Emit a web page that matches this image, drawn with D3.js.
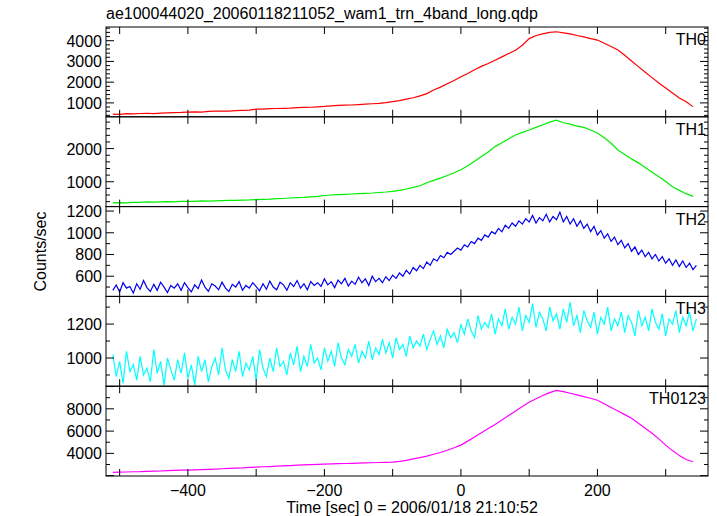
<!DOCTYPE html>
<html>
<head>
<meta charset="utf-8">
<script src="https://cdn.jsdelivr.net/npm/d3@7"></script>
<style>
  body { margin: 0; background: #fff; }
  text { font-family: "Liberation Sans", Arial, sans-serif; }
</style>
</head>
<body>
<svg width="717" height="516"></svg>
<script>
// light curve bins: 10 s for the smooth bands, 5 s for the noisy ones
let th0 = [460,450,480,470,490,500,480,510,520,530,540,
  560,570,560,590,600,610,600,630,640,650,700,
  700,720,730,740,750,770,780,790,810,830,
  860,880,890,900,920,940,960,980,1010,1060,
  1110,1180,1250,1340,1450,1620,1760,1920,2080,2260,
  2420,2600,2760,2900,3060,3220,3380,3540,3780,4100,
  4250,4330,4400,4430,4380,4330,4250,4180,4100,4030,
  3880,3720,3550,3300,3020,2750,2480,2220,1960,1720,
  1480,1240,1060,820]
let th1 = [360,370,365,380,375,390,385,395,400,395,405,
  410,405,420,415,425,430,435,440,445,450,460,
  470,475,490,495,510,520,530,545,560,585,
  600,610,620,630,640,650,660,675,690,710,
  740,780,830,880,970,1040,1110,1190,1270,1360,
  1480,1620,1760,1900,2060,2180,2300,2410,2490,2560,
  2640,2720,2800,2860,2780,2740,2680,2640,2560,2470,
  2330,2160,1960,1820,1690,1570,1430,1290,1150,1010,
  850,740,640,560]
let th0123 = [2300,2320,2330,2350,2360,2390,2400,2420,2450,2470,2490,
  2500,2520,2540,2570,2590,2620,2650,2680,2700,2740,2770,
  2800,2820,2850,2880,2910,2940,2970,2990,3010,3040,
  3060,3080,3090,3110,3130,3150,3160,3180,3200,3220,
  3290,3380,3500,3620,3760,3920,4080,4280,4500,4740,
  5100,5480,5860,6240,6600,7000,7400,7800,8200,8590,
  8900,9200,9450,9660,9550,9400,9250,9100,8950,8770,
  8450,8120,7800,7480,7160,6700,6250,5800,5300,4740,
  4250,3800,3450,3250]
let th2 = [470,520,455,540,490,505,445,530,480,560,
  495,460,525,470,545,500,450,515,490,530,
  470,540,495,455,520,485,565,500,460,530,
  510,475,545,490,460,525,500,550,470,515,
  490,540,505,465,530,480,555,500,475,545,
  520,470,540,505,560,490,530,475,550,515,
  540,505,575,520,550,495,565,530,580,510,
  555,525,590,540,575,515,600,550,580,540,
  595,560,610,580,630,600,655,620,680,650,
  700,670,730,700,760,740,790,770,820,800,
  830,860,840,890,870,920,900,950,930,980,
  960,1010,990,1040,1010,1070,1040,1090,1060,1110,
  1080,1130,1100,1160,1090,1140,1110,1170,1100,1150,
  1120,1190,1100,1150,1080,1130,1060,1110,1040,1080,
  1010,1060,980,1020,950,990,920,960,890,930,
  860,900,830,870,800,840,780,820,760,800,
  740,780,720,760,700,750,690,740,680,720,
  660,700]
let th3 = [1020,890,980,850,1040,920,960,870,1010,900,
  940,860,1050,910,980,840,1000,930,870,990,
  910,1030,880,960,840,1010,920,990,860,950,
  1000,900,1060,930,880,990,920,1040,890,970,
  930,1010,870,1050,940,890,1000,920,1060,950,
  980,900,1030,960,1070,920,1010,950,1080,970,
  1000,930,1060,980,1040,950,1090,1000,960,1050,
  1010,1080,970,1040,1000,1100,990,1060,1020,1110,
  1030,1090,1000,1120,1050,1080,1010,1130,1060,1100,
  1070,1140,1050,1110,1160,1080,1130,1060,1170,1120,
  1150,1090,1200,1140,1230,1160,1120,1250,1170,1210,
  1180,1260,1140,1230,1190,1290,1170,1240,1200,1300,
  1160,1250,1210,1320,1180,1270,1230,1160,1300,1220,
  1260,1170,1290,1210,1330,1190,1250,1150,1280,1220,
  1180,1270,1140,1240,1200,1300,1160,1230,1190,1270,
  1150,1250,1210,1130,1280,1190,1240,1160,1290,1210,
  1170,1260,1130,1230,1200,1280,1150,1240,1190,1270,
  1160,1230]

let tCoarse = d3.range(th0.length).map(i => -510 + i * 10)
let tFine = d3.range(th2.length).map(i => -510 + i * 5)

let panels = [
  {name: 'TH0', vals: th0, t: tCoarse, color: '#ff0000', domain: [330, 4660], major: 1000, minor: 200},
  {name: 'TH1', vals: th1, t: tCoarse, color: '#00ee00', domain: [250, 2960], major: 1000, minor: 200},
  {name: 'TH2', vals: th2, t: tFine, color: '#0000ee', domain: [414, 1241], major: 200, minor: 100},
  {name: 'TH3', vals: th3, t: tFine, color: '#00ffff', domain: [834, 1363], major: 200, minor: 100},
  {name: 'TH0123', vals: th0123, t: tCoarse, color: '#ff00ff', domain: [1970, 10030], major: 2000, minor: 1000}
]

let plotLeft = 106, plotRight = 708, plotTop = 27, plotBottom = 476
let ph = (plotBottom - plotTop) / panels.length
let fs = 16
let svg = d3.select('svg')

let xScale = d3.scaleLinear().domain([-520, 362]).range([plotLeft, plotRight])

svg.append('text').attr('x', plotLeft).attr('y', 19).attr('font-size', fs)
   .text('ae100044020_20060118211052_wam1_trn_4band_long.qdp')

panels.forEach((p, i) => {
  let y0 = plotTop + i * ph, y1 = y0 + ph
  let yScale = d3.scaleLinear().domain(p.domain).range([y1, y0])
  let g = svg.append('g')

  // data line
  let line = d3.line().x((d, j) => xScale(p.t[j])).y(d => yScale(d))
  g.append('path').datum(p.vals).attr('d', line)
   .attr('fill', 'none').attr('stroke', p.color).attr('stroke-width', 1.2)

  // y ticks, both sides pointing inward
  let minorT = d3.range(Math.ceil(p.domain[0] / p.minor) * p.minor, p.domain[1], p.minor)
  minorT.forEach(v => {
    let isMajor = v % p.major === 0
    let len = isMajor ? 8 : 4
    let yy = yScale(v)
    g.append('line').attr('x1', plotLeft).attr('x2', plotLeft + len).attr('y1', yy).attr('y2', yy).attr('stroke', '#000')
    g.append('line').attr('x1', plotRight).attr('x2', plotRight - len).attr('y1', yy).attr('y2', yy).attr('stroke', '#000')
    // labels too close to the panel edges are left out
    if (isMajor && yy - y0 > 3 && y1 - yy > 8) {
      g.append('text').attr('x', plotLeft - 4).attr('y', yy + 6).attr('text-anchor', 'end')
       .attr('font-size', fs).text(v)
    }
  })

  // x ticks top and bottom
  d3.range(-500, 362, 100).forEach(v => {
    let xx = xScale(v)
    g.append('line').attr('x1', xx).attr('x2', xx).attr('y1', y0).attr('y2', y0 + 7).attr('stroke', '#000')
    g.append('line').attr('x1', xx).attr('x2', xx).attr('y1', y1).attr('y2', y1 - 7).attr('stroke', '#000')
  })

  g.append('rect').attr('x', plotLeft).attr('y', y0).attr('width', plotRight - plotLeft).attr('height', ph)
   .attr('fill', 'none').attr('stroke', '#000').attr('stroke-width', 1)

  g.append('text').attr('x', plotRight - 2).attr('y', y0 + 18).attr('text-anchor', 'end')
   .attr('font-size', fs).text(p.name)
})

// x axis labels
d3.range(-400, 362, 200).forEach(v => {
  svg.append('text').attr('x', xScale(v)).attr('y', plotBottom + 20).attr('text-anchor', 'middle')
     .attr('font-size', fs).text(v < 0 ? '\u2212' + Math.abs(v) : v)
})

svg.append('text').attr('x', 412).attr('y', 513).attr('text-anchor', 'middle')
   .attr('font-size', fs).text('Time [sec] 0 = 2006/01/18 21:10:52')

svg.append('text').attr('transform', 'translate(46,' + (plotTop + plotBottom) / 2 + ') rotate(-90)')
   .attr('text-anchor', 'middle').attr('font-size', fs).text('Counts/sec')
</script>
</body>
</html>
